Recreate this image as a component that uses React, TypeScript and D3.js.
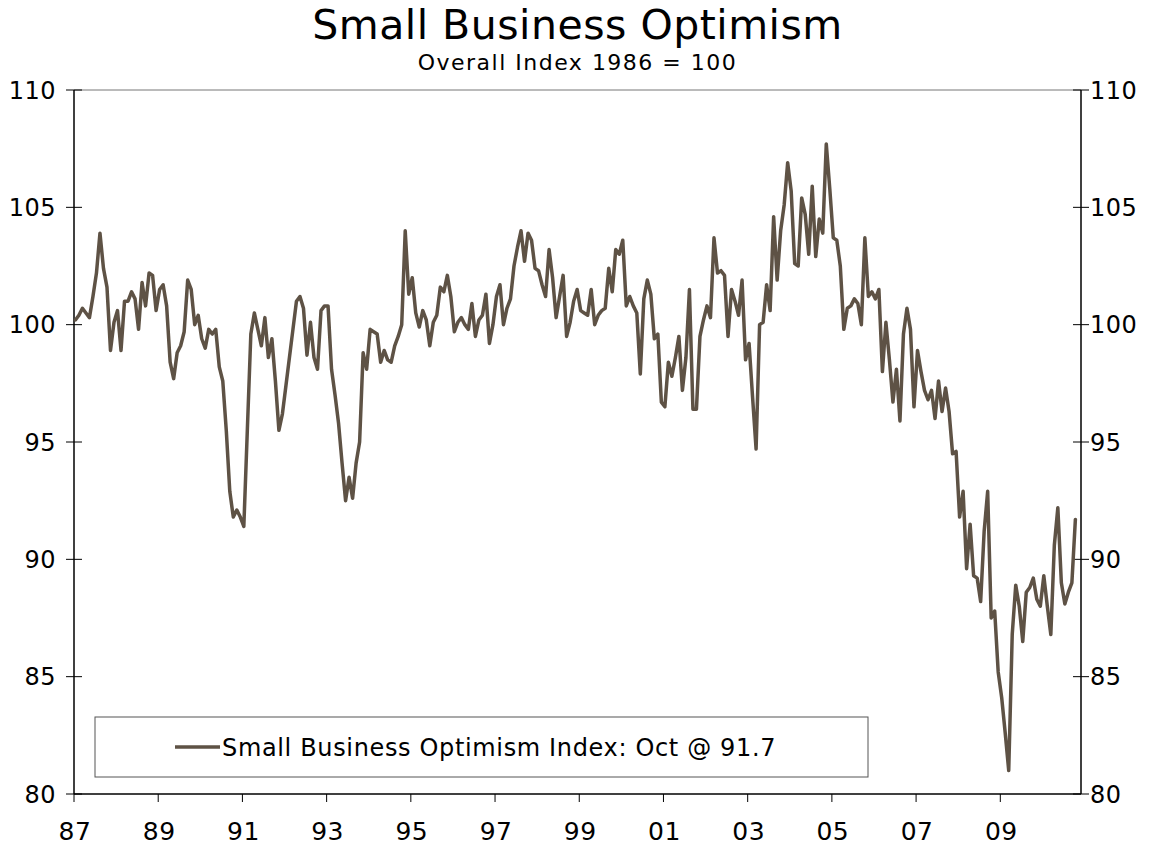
import React from 'react';
import * as d3 from 'd3';

// Monthly index values, Jan 1987 .. Oct 2010 (1986 = 100)
const idx1987 = [100.2, 100.4, 100.7, 100.5, 100.3, 101.2, 102.2, 103.9, 102.4, 101.6, 98.9, 100.1];
const idx1988 = [100.6, 98.9, 101.0, 101.0, 101.4, 101.1, 99.8, 101.8, 100.8, 102.2, 102.1, 100.6];
const idx1989 = [101.5, 101.7, 100.8, 98.4, 97.7, 98.8, 99.1, 99.7, 101.9, 101.5, 100.0, 100.4];
const idx1990 = [99.4, 99.0, 99.8, 99.6, 99.8, 98.2, 97.6, 95.5, 92.9, 91.8, 92.1, 91.8];
const idx1991 = [91.4, 95.5, 99.6, 100.5, 99.8, 99.1, 100.3, 98.6, 99.4, 97.6, 95.5, 96.2];
const idx1992 = [97.4, 98.6, 99.8, 101.0, 101.2, 100.7, 98.7, 100.1, 98.6, 98.1, 100.6, 100.8];
const idx1993 = [100.8, 98.1, 97.0, 95.8, 94.1, 92.5, 93.5, 92.6, 94.1, 95.0, 98.8, 98.1];
const idx1994 = [99.8, 99.7, 99.6, 98.4, 98.9, 98.5, 98.4, 99.1, 99.5, 100.0, 104.0, 101.3];
const idx1995 = [102.0, 100.5, 99.9, 100.6, 100.2, 99.1, 100.1, 100.4, 101.6, 101.4, 102.1, 101.2];
const idx1996 = [99.7, 100.1, 100.3, 100.0, 99.8, 100.9, 99.5, 100.2, 100.4, 101.3, 99.2, 100.0];
const idx1997 = [101.2, 101.7, 100.0, 100.7, 101.1, 102.5, 103.3, 104.0, 102.7, 103.9, 103.6, 102.4];
const idx1998 = [102.3, 101.7, 101.2, 103.2, 102.0, 100.3, 101.2, 102.1, 99.5, 100.1, 101.0, 101.5];
const idx1999 = [100.6, 100.5, 100.4, 101.5, 100.0, 100.4, 100.6, 100.7, 102.4, 101.4, 103.2, 103.0];
const idx2000 = [103.6, 100.8, 101.2, 100.8, 100.5, 97.9, 101.1, 101.9, 101.3, 99.4, 99.6, 96.7];
const idx2001 = [96.5, 98.4, 97.8, 98.6, 99.5, 97.2, 98.6, 101.5, 96.4, 96.4, 99.5, 100.2];
const idx2002 = [100.8, 100.3, 103.7, 102.2, 102.3, 102.1, 99.5, 101.5, 101.0, 100.4, 101.9, 98.5];
const idx2003 = [99.2, 96.9, 94.7, 100.0, 100.1, 101.7, 100.6, 104.6, 101.9, 104.0, 105.1, 106.9];
const idx2004 = [105.7, 102.6, 102.5, 105.4, 104.7, 103.0, 105.9, 102.9, 104.5, 103.9, 107.7, 105.8];
const idx2005 = [103.7, 103.6, 102.5, 99.8, 100.7, 100.8, 101.1, 100.9, 100.0, 103.7, 101.2, 101.4];
const idx2006 = [101.1, 101.5, 98.0, 100.1, 98.5, 96.7, 98.1, 95.9, 99.6, 100.7, 99.8, 96.5];
const idx2007 = [98.9, 98.0, 97.2, 96.8, 97.2, 96.0, 97.6, 96.3, 97.3, 96.3, 94.5, 94.6];
const idx2008 = [91.8, 92.9, 89.6, 91.5, 89.3, 89.2, 88.2, 91.2, 92.9, 87.5, 87.8, 85.2];
const idx2009 = [84.1, 82.6, 81.0, 86.8, 88.9, 88.0, 86.5, 88.6, 88.8, 89.2, 88.3, 88.0];
const idx2010 = [89.3, 88.0, 86.8, 90.6, 92.2, 89.0, 88.1, 88.6, 89.0, 91.7];

const optimismIndex: number[] = [
  ...idx1987, ...idx1988, ...idx1989, ...idx1990, ...idx1991, ...idx1992,
  ...idx1993, ...idx1994, ...idx1995, ...idx1996, ...idx1997, ...idx1998,
  ...idx1999, ...idx2000, ...idx2001, ...idx2002, ...idx2003, ...idx2004,
  ...idx2005, ...idx2006, ...idx2007, ...idx2008, ...idx2009, ...idx2010,
];

const xTickLabels = ['87', '89', '91', '93', '95', '97', '99', '01', '03', '05', '07', '09'];
const yTicks = [80, 85, 90, 95, 100, 105, 110];
const titleText = 'Small Business Optimism';
const subtitleText = 'Overall Index 1986 = 100';
const legendText = 'Small Business Optimism Index: Oct @ 91.7';

const W = 1153;
const H = 850;
const M = { left: 74, right: 1081, top: 90, bottom: 794 };
const FONT = '"DejaVu Sans", Verdana, sans-serif';
const LINE_COLOR = '#5e5245';

export default function App() {
  const totalMonths = 288; // Jan 1987 .. Dec 2010 category slots
  const x = d3.scaleLinear().domain([0, totalMonths - 1]).range([M.left, M.right]);
  const y = d3.scaleLinear().domain([80, 110]).range([M.bottom, M.top]);

  const line = d3
    .line<number>()
    .x((_, i) => x(i + 0.4))
    .y((d) => y(d));

  const tickLen = 8;
  const cx = (M.left + M.right) / 2;

  return (
    <div style={{ position: 'absolute', left: 0, top: 0, width: W, height: H, background: '#fff' }}>
      <svg width={W} height={H} style={{ display: 'block' }} fontFamily={FONT}>
        <rect x={0} y={0} width={W} height={H} fill="#fff" />
        {/* Titles */}
        <text x={cx} y={39} textAnchor="middle" fontSize={41} letterSpacing={0.5} fill="#000">
          {titleText}
        </text>
        <text x={cx} y={70} textAnchor="middle" fontSize={22} letterSpacing={1.5} fill="#000">
          {subtitleText}
        </text>

        {/* Plot frame */}
        <line x1={M.left} x2={M.right} y1={M.top} y2={M.top} stroke="#777" strokeWidth={1} />
        <line x1={M.left} x2={M.left} y1={M.top} y2={M.bottom} stroke="#000" strokeWidth={1.5} />
        <line x1={M.right} x2={M.right} y1={M.top} y2={M.bottom} stroke="#000" strokeWidth={1.5} />
        <line x1={M.left} x2={M.right} y1={M.bottom} y2={M.bottom} stroke="#000" strokeWidth={1.5} />

        {/* Y ticks and labels, both sides */}
        {yTicks.map((t) => (
          <g key={'y' + t}>
            <line x1={M.left - tickLen} x2={M.left + tickLen} y1={y(t)} y2={y(t)} stroke="#000" strokeWidth={1} />
            <line x1={M.right - tickLen} x2={M.right + tickLen} y1={y(t)} y2={y(t)} stroke="#000" strokeWidth={1} />
            <text x={56} y={y(t)} dy="0.36em" textAnchor="end" fontSize={24} letterSpacing={0.5} fill="#000">
              {t}
            </text>
            <text x={1090} y={y(t)} dy="0.36em" textAnchor="start" fontSize={24} letterSpacing={0.5} fill="#000">
              {t}
            </text>
          </g>
        ))}

        {/* X ticks and labels */}
        {xTickLabels.map((lab, j) => (
          <g key={'x' + lab}>
            <line x1={x(24 * j)} x2={x(24 * j)} y1={M.bottom} y2={M.bottom + tickLen} stroke="#000" strokeWidth={1} />
            <text x={x(24 * j) + 1} y={840} textAnchor="middle" fontSize={25} letterSpacing={0.5} fill="#000">
              {lab}
            </text>
          </g>
        ))}

        {/* Data line */}
        <path d={line(optimismIndex) || ''} fill="none" stroke={LINE_COLOR} strokeWidth={3.5} strokeLinejoin="round" strokeLinecap="round" />

        {/* Legend */}
        <rect x={95} y={717} width={773} height={60} fill="#fff" stroke="#555" strokeWidth={1} />
        <line x1={175} x2={220} y1={747} y2={747} stroke={LINE_COLOR} strokeWidth={3.5} />
        <text x={222} y={756} fontSize={24} letterSpacing={0.65} fill="#000">
          {legendText}
        </text>
      </svg>
    </div>
  );
}
